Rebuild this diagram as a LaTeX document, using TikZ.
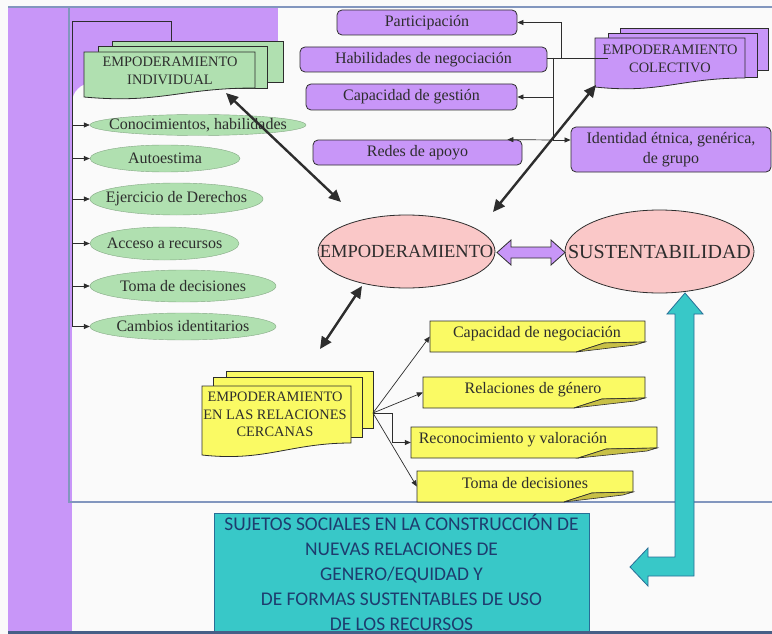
\documentclass[tikz,border=0pt]{standalone}
\usepackage{fontspec}
\setmainfont{Liberation Serif}
\newfontfamily\sansc{Carlito}
\usetikzlibrary{arrows.meta,shapes.geometric}

\definecolor{purp}{RGB}{200,150,248}
\definecolor{grn}{RGB}{176,224,176}
\definecolor{pnk}{RGB}{250,200,200}
\definecolor{ylw}{RGB}{250,250,100}
\definecolor{foldc}{RGB}{200,192,70}
\definecolor{tealc}{RGB}{56,200,200}
\definecolor{tealedge}{RGB}{40,110,150}
\definecolor{framec}{RGB}{130,150,190}
\definecolor{botline}{RGB}{70,95,135}
\definecolor{ink}{RGB}{45,45,45}
\definecolor{navy}{RGB}{30,60,110}
\definecolor{paper}{RGB}{250,250,250}

\newcommand{\zw}[1]{\makebox[0pt]{#1}}
% yellow note: name, x1, y1, x2, y2, text x, text
\newcommand{\notebox}[7]{%
  \pgfmathsetmacro\xf{#2+0.68*(#4-#2)}
  \filldraw[note] (#2,#3) -- (#4,#3) -- (#4,#5-10) -- (\xf+28,#5-9) -- (\xf,#5) -- (#2,#5) -- cycle;
  \filldraw[notefold] (\xf,#5) -- (\xf+28,#5-9) -- (#4,#5-10) -- (#4-10,#5-7) -- cycle;
  \node[inner sep=0pt,minimum width={#4-#2},minimum height={#5-#3}] (#1) at ({(#2+#4)/2},{(#3+#5)/2}) {};
  \node[lbl] (#1t) at (#6,{(#3+#5)/2-3}) {#7};
}

\begin{document}
\begin{tikzpicture}[x=1pt,y=-1pt,
  edge/.style={draw=ink,line width=0.8pt},
  tarrow/.style={-{Triangle[length=6pt,width=5pt]},draw=ink,line width=0.7pt},
  bigarrow/.style={{Triangle[length=12pt,width=11pt]}-{Triangle[length=12pt,width=11pt]},draw=ink,line width=2.4pt},
  frameline/.style={draw=framec,line width=1.5pt},
  gell/.style={ellipse,draw=grn!75!black,line width=0.4pt,fill=grn,inner sep=0pt,text=ink,font=\fontsize{16}{18}\selectfont},
  pell/.style={ellipse,draw=ink,line width=0.8pt,fill=pnk,inner sep=0pt,text=ink},
  pbox/.style={rectangle,rounded corners=5pt,draw=ink,line width=0.8pt,fill=purp,inner sep=0pt,text=ink,font=\fontsize{16}{20}\selectfont},
  page/.style={draw=ink,line width=0.8pt},
  note/.style={draw=ink,line width=0.8pt,fill=ylw},
  notefold/.style={draw=ink,line width=0.6pt,fill=foldc},
  lbl/.style={inner sep=0pt,text=ink,font=\fontsize{16}{18}\selectfont},
  stacklbl/.style={inner sep=0pt,text=ink,align=center,font=\fontsize{14.4}{18}\selectfont},
  tealbox/.style={rectangle,draw=tealedge,line width=0.8pt,fill=tealc,inner sep=0pt,align=center,text=navy,font=\sansc\fontsize{19.4}{25}\selectfont},
]
\useasboundingbox (0,0) rectangle (772,634);

% template background
\fill[paper] (0,0) rectangle (772,634);
\fill[purp] (8,8) rectangle (278,631);
\fill[paper] (72,631) -- (72,103) arc[start angle=180,end angle=270,radius=20] -- (278,83) -- (278,8) -- (772,8) -- (772,631) -- cycle;
\draw[frameline] (8,7) -- (772,7);
\draw[frameline] (69,7) -- (69,502) -- (772,502);

% individual empowerment
\draw[edge] (171,41) |- (72,21) coordinate (brk) -- (72,326.5);
\filldraw[page,fill=grn] (112,41) rectangle (283,82);
\filldraw[page,fill=grn] (98,46) rectangle (267,88);
\filldraw[page,fill=grn] (84,52) -- (255,52) -- (255,88) .. controls (180,88) and (160,104) .. (84,97) -- cycle;
\node[stacklbl] (indiv) at (170,71) {EMPODERAMIENTO\\INDIVIDUAL};

\node[gell,minimum width=216pt,minimum height=21pt] (conoc) at (198,125) {\zw{Conocimientos, habilidades}};
\node[gell,minimum width=150pt,minimum height=27pt] (auto) at (165,158.5) {\zw{Autoestima}};
\node[gell,minimum width=173pt,minimum height=32pt] (ejer) at (176.5,199) {\zw{Ejercicio de Derechos}};
\node[gell,minimum width=149pt,minimum height=33pt] (acce) at (164.5,243.5) {\zw{Acceso a recursos}};
\node[gell,minimum width=186pt,minimum height=32pt] (toma) at (183,286) {\zw{Toma de decisiones}};
\node[gell,minimum width=186pt,minimum height=27pt] (camb) at (183,326.5) {\zw{Cambios identitarios}};
\foreach \n in {conoc,auto,ejer,acce,toma,camb}
  \draw[tarrow] (brk |- \n.west) -- (\n.west);

% collective empowerment
\node[pbox,minimum width=180pt,minimum height=25pt] (part) at (427,22.5) {Participación};
\node[pbox,minimum width=247pt,minimum height=25pt] (habil) at (423.5,59.5) {Habilidades de negociación};
\node[pbox,minimum width=211pt,minimum height=26pt] (capg) at (411.5,97) {Capacidad de gestión};
\node[pbox,minimum width=209pt,minimum height=25pt] (redes) at (417.5,152.5) {Redes de apoyo};
\node[pbox,minimum width=200pt,minimum height=45pt,align=center] (ident) at (671,149.5) {Identidad étnica, genérica,\\de grupo};

\filldraw[page,fill=purp] (620,28) rectangle (768,70);
\filldraw[page,fill=purp] (608,33) rectangle (757,77);
\filldraw[page,fill=purp] (595,38) -- (745,38) -- (745,78) .. controls (680,78) and (660,94) .. (595,87) -- cycle;
\node[stacklbl] (colec) at (670,59) {EMPODERAMIENTO\\COLECTIVO};

\coordinate (colsrc) at (608,58);
\coordinate (jpart) at (561,58);
\coordinate (jcap) at (553,58);
\coordinate (jred) at (553,140);
\draw[edge] (colsrc) -- (colsrc -| habil.east);
\draw[tarrow] (jpart) |- (part.east);
\draw[tarrow] (jcap) |- (capg.east);
\draw[edge] (jcap) -- (jred);
\draw[tarrow] (jred) -- ([xshift=-15pt]redes.north east);
\draw[tarrow] (jred) -- (jred -| ident.west);

% centre
\node[pell,minimum width=177pt,minimum height=73pt,font=\fontsize{18.5}{20}\selectfont] (emp) at (406.5,251.5) {\zw{EMPODERAMIENTO}};
\node[pell,minimum width=189pt,minimum height=83pt,font=\fontsize{20}{22}\selectfont] (sus) at (659.5,251.5) {\zw{SUSTENTABILIDAD}};
\filldraw[draw=ink,line width=0.8pt,fill=purp] (497,252.5) -- (511,240) -- (511,247) -- (551,247) -- (551,240) -- (565,252.5) -- (551,265) -- (551,258) -- (511,258) -- (511,265) -- cycle;

% close relations
\filldraw[page,fill=ylw] (226,371) rectangle (373,428);
\filldraw[page,fill=ylw] (213,377) rectangle (362,437);
\filldraw[page,fill=ylw] (202,386) -- (351,386) -- (351,443) .. controls (290,443) and (265,462) .. (202,455) -- cycle;
\node[stacklbl,font=\fontsize{14.4}{17.5}\selectfont] (cerca) at (275,414.5) {EMPODERAMIENTO\\EN LAS RELACIONES\\CERCANAS};

\notebox{neg}{430}{321}{645}{352}{537}{Capacidad de negociación}
\notebox{gen}{423}{377}{645}{408}{533}{Relaciones de género}
\notebox{recon}{411}{427}{657}{458}{513}{Reconocimiento y valoración}
\notebox{tdec}{417}{471}{633}{502}{525}{Toma de decisiones}

\coordinate (csrc) at (373,413);
\draw[tarrow] (csrc) -- (neg.west);
\draw[tarrow] (csrc) -- (gen.west);
\draw[tarrow] (csrc) -- ++(19,0) |- (recon.west);
\draw[tarrow] (csrc) -- (tdec.west);

% thick links
\coordinate (indtip) at (226,93);
\coordinate (empnw) at (341,202);
\coordinate (coltip) at (596,85);
\coordinate (empne) at (493,212);
\coordinate (empsw) at (362,286);
\coordinate (certip) at (320,349);
\draw[bigarrow] (indtip) -- (empnw);
\draw[bigarrow] (coltip) -- (empne);
\draw[bigarrow] (empsw) -- (certip);

% subjects
\node[tealbox,minimum width=375pt,minimum height=119pt] (suj) at (401.5,572.5)
  {SUJETOS SOCIALES EN LA CONSTRUCCIÓN DE\\NUEVAS RELACIONES DE\\GENERO/EQUIDAD Y\\DE FORMAS SUSTENTABLES DE USO\\DE LOS RECURSOS};
\filldraw[fill=tealc,draw=tealedge,line width=0.8pt] (685,293) -- (703,314) -- (694,314) -- (694,576) -- (648,576) -- (648,586) -- (630,567) -- (648,548) -- (648,557) -- (675,557) -- (675,314) -- (667,314) -- cycle;
\draw[line width=3pt,draw=botline] (8,632) -- (772,632);
\end{tikzpicture}
\end{document}
